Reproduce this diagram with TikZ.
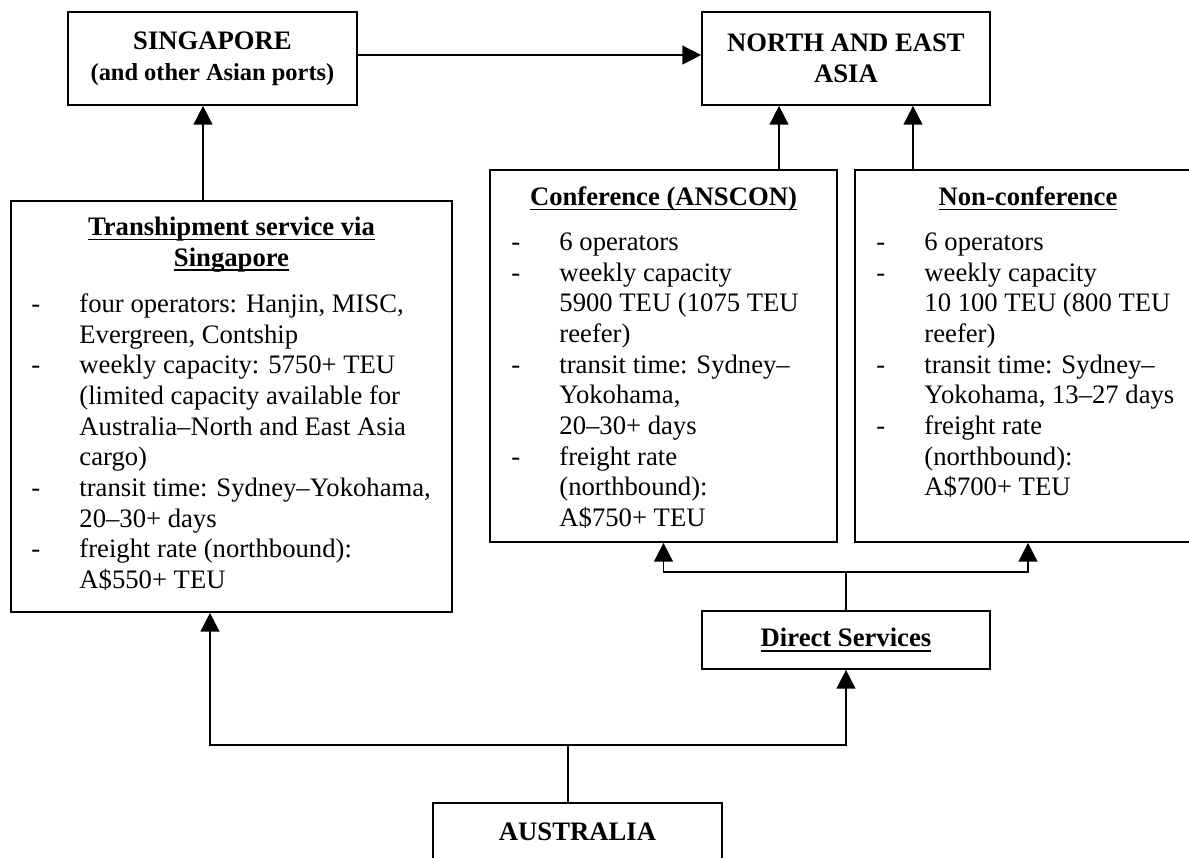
\documentclass[tikz,border=0pt]{standalone}
\usepackage{fontspec}
\setmainfont{Liberation Serif}
\usetikzlibrary{arrows.meta}
\newcommand{\uln}[1]{\setbox0\hbox{#1}\rlap{\rule[-2.2pt]{\wd0}{0.8pt}}\box0}

\begin{document}
\begin{tikzpicture}[x=0.45pt, y=-0.45pt,
            box/.style={draw, line width=0.75pt, inner sep=0pt, align=center,
                font=\fontsize{12}{13.8}\selectfont\bfseries},
            head/.style={anchor=north, inner sep=0pt, align=center,
                font=\fontsize{12}{13.8}\selectfont\bfseries},
            body/.style={anchor=north west, inner sep=0pt,
                font=\fontsize{12}{13.8}\selectfont},
            line/.style={line width=0.75pt},
            arr/.style={line width=0.75pt, -{Triangle[length=8.5pt, width=8.5pt]}}]

            \useasboundingbox (0,0) rectangle (1189,857);
            \clip (0,0) rectangle (1189,857);

            % boxes
            \node[box, minimum width=130pt, minimum height=41.85pt] (sing) at (212.5,58.5)
                {SINGAPORE\\{\fontsize{11}{12.6}\selectfont (and other Asian ports)}};
            \node[box, minimum width=129.6pt, minimum height=41.85pt] (north) at (846,58.5)
                {NORTH AND EAST\\ASIA};
            \node[box, minimum width=198.45pt, minimum height=184.95pt] (trans) at (231.5,406.5) {};
            \node[box, minimum width=156.15pt, minimum height=167.4pt] (conf) at (663.5,356) {};
            \node[box, minimum width=155.7pt, minimum height=167.4pt] (nonconf) at (1028,356) {};
            \node[box, minimum width=129.6pt, minimum height=26.1pt] (direct) at (846,640)
                {\uln{Direct Services}};
            \node[box, minimum width=130pt, minimum height=26.1pt] (aus) at (577.5,832)
                {AUSTRALIA};

            % texts in the service boxes
            \node[head] (transhead) at (231.5,213.5)
                {\strut\uln{Transhipment service via}\\\strut\uln{Singapore}};
            \node[body] (transbody) at (31,290.5)
            {
                \begin{tabular}{@{}p{21.6pt}@{}l@{}}
                    - & four operators: Hanjin, MISC,\\
                      & Evergreen, Contship\\
                    - & weekly capacity: 5750+ TEU\\
                      & (limited capacity available for\\
                      & Australia–North and East Asia\\
                      & cargo)\\
                    - & transit time: Sydney–Yokohama,\\
                      & 20–30+ days\\
                    - & freight rate (northbound):\\
                      & A\$550+ TEU
                \end{tabular}
            };

            \node[head] (confhead) at (663.5,183.5) {\strut\uln{Conference (ANSCON)}};
            \node[body] (confbody) at (511,228.5)
            {
                \begin{tabular}{@{}p{21.6pt}@{}l@{}}
                    - & 6 operators\\
                    - & weekly capacity\\
                      & 5900 TEU (1075 TEU\\
                      & reefer)\\
                    - & transit time: Sydney–\\
                      & Yokohama,\\
                      & 20–30+ days\\
                    - & freight rate\\
                      & (northbound):\\
                      & A\$750+ TEU
                \end{tabular}
            };

            \node[head] (nonconfhead) at (1028,183.5) {\strut\uln{Non-conference}};
            \node[body] (nonconfbody) at (876,228.5)
            {
                \begin{tabular}{@{}p{21.6pt}@{}l@{}}
                    - & 6 operators\\
                    - & weekly capacity\\
                      & 10 100 TEU (800 TEU\\
                      & reefer)\\
                    - & transit time: Sydney–\\
                      & Yokohama, 13–27 days\\
                    - & freight rate\\
                      & (northbound):\\
                      & A\$700+ TEU
                \end{tabular}
            };

            % connectors
            \draw[arr] (sing.east |- 0,55) -- (north.west |- 0,55);
            \draw[arr] (203,0 |- trans.north) -- (203,0 |- sing.south);
            \draw[arr] (779,0 |- conf.north) -- (779,0 |- north.south);
            \draw[arr] (913,0 |- nonconf.north) -- (913,0 |- north.south);

            \draw[line] (direct.north) -- ++(0,-38) coordinate (dsplit);
            \draw[arr] (dsplit) -| (conf.south);
            \draw[arr] (dsplit) -| (nonconf.south);

            \draw[line] (568,0 |- aus.north) -- ++(0,-57) coordinate (asplit);
            \draw[arr] (asplit) -| (210,0 |- trans.south);
            \draw[arr] (asplit) -| (direct.south);
        \end{tikzpicture}
\end{document}
